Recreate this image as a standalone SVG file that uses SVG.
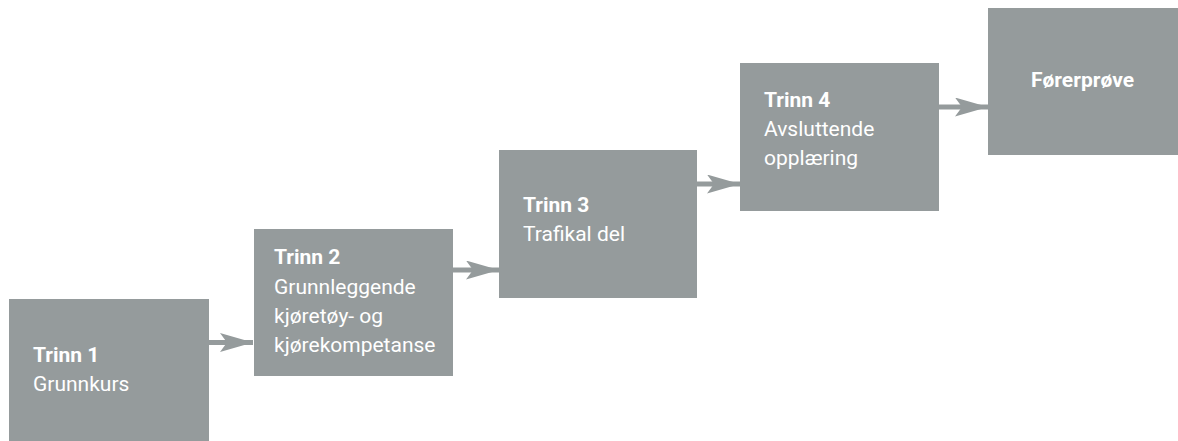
<svg xmlns="http://www.w3.org/2000/svg" width="1178" height="441" viewBox="0 0 1178 441">
<style>
.box{fill:#959b9c;}
.t{font-family:Roboto,"Open Sans","Liberation Sans",sans-serif;font-size:21px;fill:#ffffff;}
.b{font-weight:bold;}
.conn{stroke:#959b9c;stroke-width:5;fill:none;}
</style>
<defs>
<marker id="ah" markerUnits="userSpaceOnUse" markerWidth="36" markerHeight="22" refX="33" refY="9.5" orient="auto">
<path d="M0,0 L33,9.5 L0,19 L7,9.5 Z" fill="#959b9c"/>
</marker>
</defs>
<rect width="1178" height="441" fill="#ffffff"/>
<g id="connectors">
<path class="conn" d="M209,342.5 L253,342.5" marker-end="url(#ah)"/>
<path class="conn" d="M453,270 L499,270" marker-end="url(#ah)"/>
<path class="conn" d="M697,184 L740,184" marker-end="url(#ah)"/>
<path class="conn" d="M939,107 L988,107" marker-end="url(#ah)"/>
</g>
<g id="trinn1">
<rect class="box" x="9" y="299" width="200" height="150"/>
<text class="t b" x="33" y="362">Trinn 1</text>
<text class="t" x="33" y="391">Grunnkurs</text>
</g>
<g id="trinn2">
<rect class="box" x="254" y="229" width="199" height="147"/>
<text class="t b" x="274" y="264">Trinn 2</text>
<text class="t" x="274" y="294">Grunnleggende</text>
<text class="t" x="274" y="323">kjøretøy- og</text>
<text class="t" x="274" y="352">kjørekompetanse</text>
</g>
<g id="trinn3">
<rect class="box" x="499" y="150" width="198" height="148"/>
<text class="t b" x="523" y="212">Trinn 3</text>
<text class="t" x="523" y="241">Trafikal del</text>
</g>
<g id="trinn4">
<rect class="box" x="740" y="63" width="199" height="148"/>
<text class="t b" x="764" y="107">Trinn 4</text>
<text class="t" x="764" y="136">Avsluttende</text>
<text class="t" x="764" y="165">opplæring</text>
</g>
<g id="forerprove">
<rect class="box" x="988" y="8" width="195" height="147"/>
<text class="t b" x="1031" y="87">Førerprøve</text>
</g>
</svg>
